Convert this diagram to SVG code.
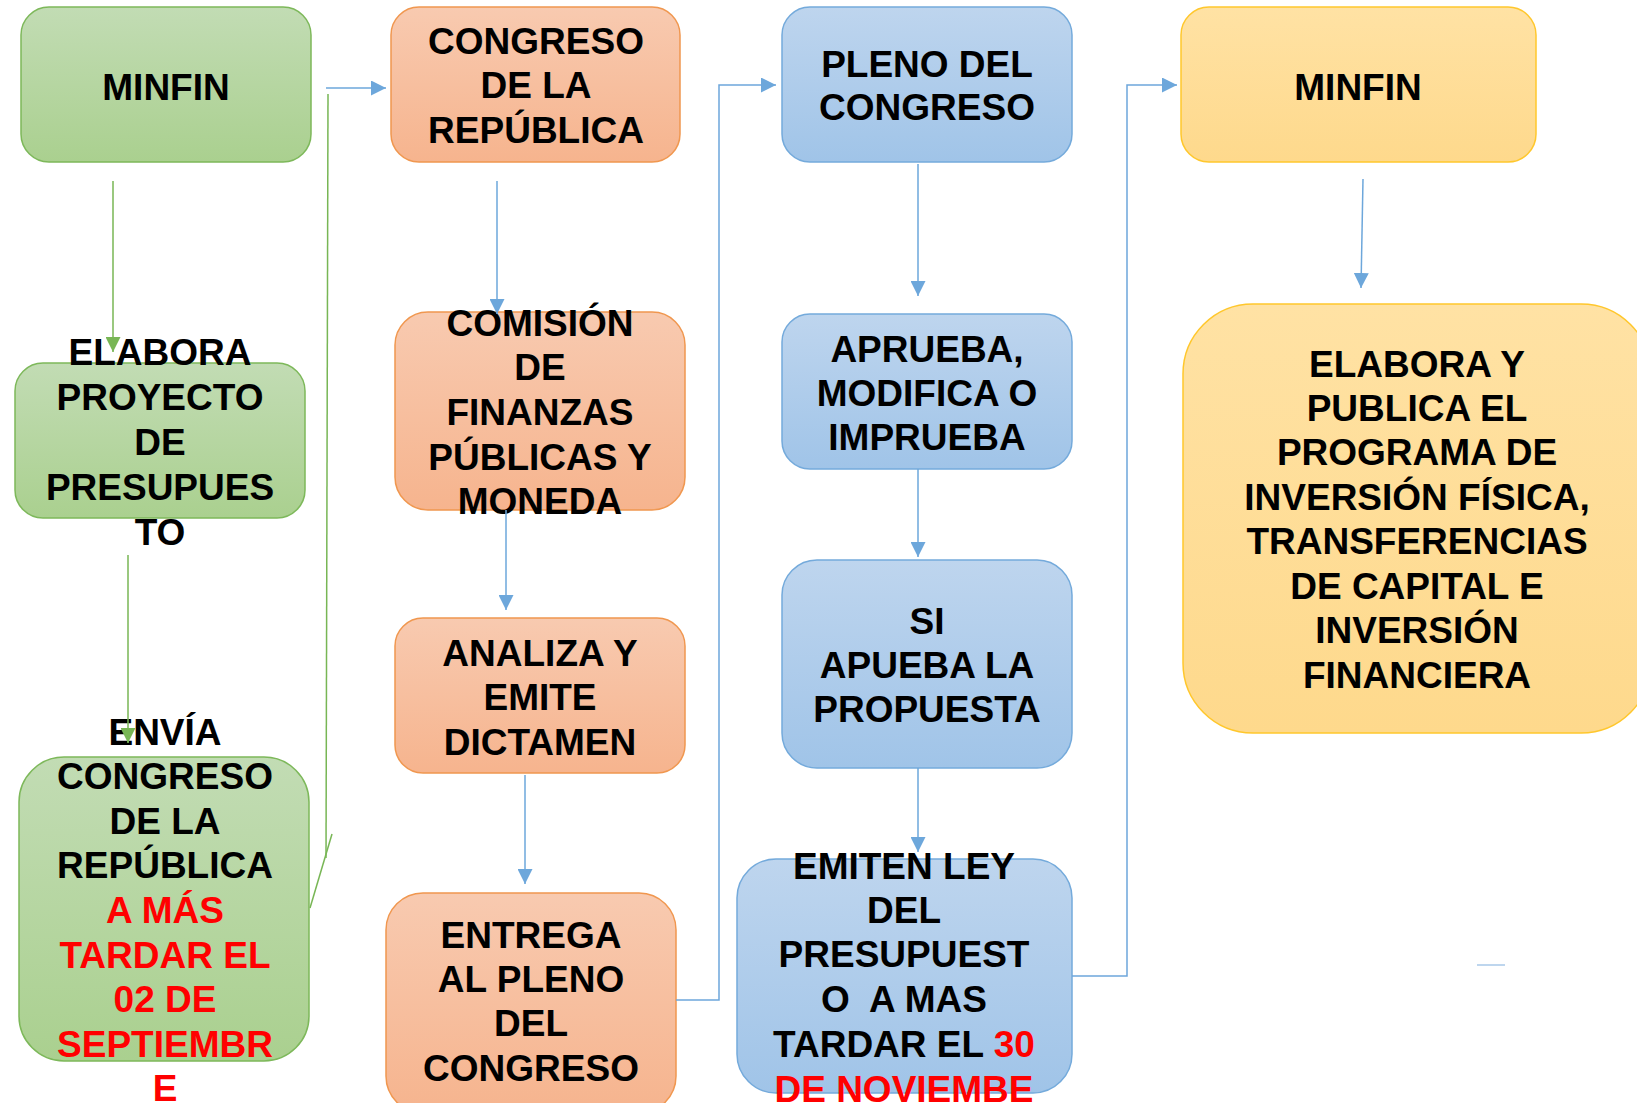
<svg xmlns="http://www.w3.org/2000/svg" width="1637" height="1103" viewBox="0 0 1637 1103">
<style>
text{font-family:"Liberation Sans",Arial,sans-serif;font-weight:bold;font-size:37px;fill:#000;text-anchor:middle}
.r{fill:#FF0000}
.g{fill:url(#gG);stroke:#7DB85A;stroke-width:1.5}
.o{fill:url(#gO);stroke:#F0974F;stroke-width:1.5}
.b{fill:url(#gB);stroke:#74AADB;stroke-width:1.5}
.y{fill:url(#gY);stroke:#FFC72C;stroke-width:1.5}
.cb{fill:none;stroke:#6DA7DB;stroke-width:1.5}
.cg{fill:none;stroke:#78B655;stroke-width:1.5}
</style>
<defs>
<linearGradient id="gG" x1="0" y1="0" x2="0" y2="1"><stop offset="0" stop-color="#C2DCB4"/><stop offset="1" stop-color="#AAD08F"/></linearGradient>
<linearGradient id="gO" x1="0" y1="0" x2="0" y2="1"><stop offset="0" stop-color="#F8CAB0"/><stop offset="1" stop-color="#F6B48E"/></linearGradient>
<linearGradient id="gB" x1="0" y1="0" x2="0" y2="1"><stop offset="0" stop-color="#BED5EE"/><stop offset="1" stop-color="#A0C4E8"/></linearGradient>
<linearGradient id="gY" x1="0" y1="0" x2="0" y2="1"><stop offset="0" stop-color="#FFE2A4"/><stop offset="1" stop-color="#FED98C"/></linearGradient>
<marker id="ab" markerUnits="userSpaceOnUse" markerWidth="16" markerHeight="15" refX="15" refY="7.5" orient="auto"><path d="M0,0 L15,7.5 L0,15 z" fill="#6DA7DB"/></marker>
<marker id="ag" markerUnits="userSpaceOnUse" markerWidth="16" markerHeight="15" refX="15" refY="7.5" orient="auto"><path d="M0,0 L15,7.5 L0,15 z" fill="#78B655"/></marker>
</defs>

<g id="n-minfin1">
<rect class="g" x="21" y="7" width="290" height="155" rx="28"/>
<text x="166" y="100">MINFIN</text>
</g>
<g id="n-elabora">
<rect class="g" x="15" y="363" width="290" height="155" rx="28"/>
<text x="160" y="365">ELABORA</text>
<text x="160" y="410">PROYECTO</text>
<text x="160" y="455">DE</text>
<text x="160" y="500">PRESUPUES</text>
<text x="160" y="545">TO</text>
</g>
<g id="n-envia">
<rect class="g" x="19" y="757" width="290" height="304" rx="45"/>
<text x="165" y="745">ENVÍA</text>
<text x="165" y="789">CONGRESO</text>
<text x="165" y="834">DE LA</text>
<text x="165" y="878">REPÚBLICA</text>
<text x="165" y="923" class="r">A MÁS</text>
<text x="165" y="968" class="r">TARDAR EL</text>
<text x="165" y="1012" class="r">02 DE</text>
<text x="165" y="1057" class="r">SEPTIEMBR</text>
<text x="165" y="1101" class="r">E</text>
</g>
<g id="n-congreso">
<rect class="o" x="391" y="7" width="289" height="155" rx="28"/>
<text x="536" y="54">CONGRESO</text>
<text x="536" y="98">DE LA</text>
<text x="536" y="143">REPÚBLICA</text>
</g>
<g id="n-comision">
<rect class="o" x="395" y="312" width="290" height="198" rx="33"/>
<text x="540" y="336">COMISIÓN</text>
<text x="540" y="380">DE</text>
<text x="540" y="425">FINANZAS</text>
<text x="540" y="470">PÚBLICAS Y</text>
<text x="540" y="514">MONEDA</text>
</g>
<g id="n-analiza">
<rect class="o" x="395" y="618" width="290" height="155" rx="28"/>
<text x="540" y="666">ANALIZA Y</text>
<text x="540" y="710">EMITE</text>
<text x="540" y="755">DICTAMEN</text>
</g>
<g id="n-entrega">
<rect class="o" x="386" y="893" width="290" height="220" rx="37"/>
<text x="531" y="948">ENTREGA</text>
<text x="531" y="992">AL PLENO</text>
<text x="531" y="1036">DEL</text>
<text x="531" y="1081">CONGRESO</text>
</g>
<g id="n-pleno">
<rect class="b" x="782" y="7" width="290" height="155" rx="28"/>
<text x="927" y="77">PLENO DEL</text>
<text x="927" y="120">CONGRESO</text>
</g>
<g id="n-aprueba">
<rect class="b" x="782" y="314" width="290" height="155" rx="28"/>
<text x="927" y="362">APRUEBA,</text>
<text x="927" y="406">MODIFICA O</text>
<text x="927" y="450">IMPRUEBA</text>
</g>
<g id="n-si">
<rect class="b" x="782" y="560" width="290" height="208" rx="35"/>
<text x="927" y="634">SI</text>
<text x="927" y="678">APUEBA LA</text>
<text x="927" y="722">PROPUESTA</text>
</g>
<g id="n-emiten">
<rect class="b" x="737" y="859" width="335" height="234" rx="39"/>
<text x="904" y="879">EMITEN LEY</text>
<text x="904" y="923">DEL</text>
<text x="904" y="967">PRESUPUEST</text>
<text x="904" y="1012" style="white-space:pre" xml:space="preserve">O  A MAS</text>
<text x="904" y="1057">TARDAR EL <tspan class="r">30</tspan></text>
<text x="904" y="1102" class="r">DE NOVIEMBE</text>
</g>
<g id="n-minfin2">
<rect class="y" x="1181" y="7" width="355" height="155" rx="28"/>
<text x="1358" y="100">MINFIN</text>
</g>
<g id="n-publica">
<rect class="y" x="1183" y="304" width="468" height="429" rx="70"/>
<text x="1417" y="377">ELABORA Y</text>
<text x="1417" y="421">PUBLICA EL</text>
<text x="1417" y="465">PROGRAMA DE</text>
<text x="1417" y="510">INVERSIÓN FÍSICA,</text>
<text x="1417" y="554">TRANSFERENCIAS</text>
<text x="1417" y="599">DE CAPITAL E</text>
<text x="1417" y="643">INVERSIÓN</text>
<text x="1417" y="688">FINANCIERA</text>
</g>

<g id="connectors">
<line class="cg" x1="113" y1="181" x2="113" y2="352" marker-end="url(#ag)"/>
<line class="cg" x1="128" y1="555" x2="128" y2="743" marker-end="url(#ag)"/>
<line class="cg" x1="328" y1="94" x2="326" y2="858"/>
<line class="cg" x1="310" y1="908" x2="332" y2="834"/>
<line class="cb" x1="326" y1="88" x2="386" y2="88" marker-end="url(#ab)"/>
<line class="cb" x1="497" y1="181" x2="497" y2="314" marker-end="url(#ab)"/>
<line class="cb" x1="506" y1="510" x2="506" y2="610" marker-end="url(#ab)"/>
<line class="cb" x1="525" y1="775" x2="525" y2="884" marker-end="url(#ab)"/>
<polyline class="cb" points="676,1000 719,1000 719,85 776,85" marker-end="url(#ab)"/>
<line class="cb" x1="918" y1="164" x2="918" y2="296" marker-end="url(#ab)"/>
<line class="cb" x1="918" y1="469" x2="918" y2="557" marker-end="url(#ab)"/>
<line class="cb" x1="918" y1="768" x2="918" y2="852" marker-end="url(#ab)"/>
<polyline class="cb" points="1072,976 1127,976 1127,85 1177,85" marker-end="url(#ab)"/>
<line class="cb" x1="1363" y1="179" x2="1361" y2="288" marker-end="url(#ab)"/>
<line x1="1477" y1="965" x2="1505" y2="965" stroke="#A9C8E8" stroke-width="1.5"/>
</g>
</svg>
